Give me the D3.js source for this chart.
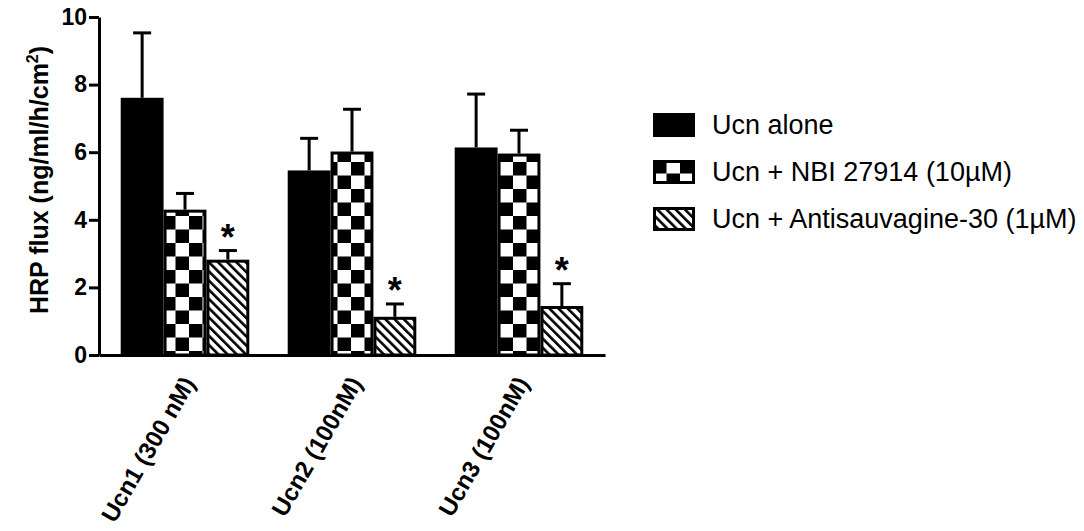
<!DOCTYPE html>
<html>
<head>
<meta charset="utf-8">
<script src="https://cdnjs.cloudflare.com/ajax/libs/d3/7.8.5/d3.min.js"></script>
<style>
  body { margin: 0; background: #fff; }
  svg { display: block; font-family: "Liberation Sans", Arial, Helvetica, sans-serif; }
</style>
</head>
<body>
<svg width="1084" height="531"></svg>
<script>
// values
const groups = ["Ucn1 (300 nM)", "Ucn2 (100nM)", "Ucn3 (100nM)"];
const series = ["Ucn alone", "Ucn + NBI 27914 (10µM)", "Ucn + Antisauvagine-30 (1µM)"];
const ucnAlone = [7.61, 5.46, 6.14];
const ucnAloneErr = [1.92, 0.95, 1.58];
const ucnNbi = [4.30, 6.02, 5.96];
const ucnNbiErr = [0.48, 1.25, 0.69];
const ucnAnti = [2.82, 1.13, 1.45];
const ucnAntiErr = [0.27, 0.38, 0.66];
const significant = [false, false, true]; // star per series
const yTicks = [0, 2, 4, 6, 8, 10];

const values = [ucnAlone, ucnNbi, ucnAnti];
const errors = [ucnAloneErr, ucnNbiErr, ucnAntiErr];
const fills = ["#000", "url(#checker)", "url(#hatch)"];

const svg = d3.select("svg");

// patterns
const defs = svg.append("defs");
const checker = defs.append("pattern")
  .attr("id", "checker")
  .attr("patternUnits", "userSpaceOnUse")
  .attr("width", 27).attr("height", 27);
checker.append("rect").attr("width", 27).attr("height", 27).attr("fill", "#fff");
checker.append("rect").attr("width", 13.5).attr("height", 13.5).attr("fill", "#000");
checker.append("rect").attr("x", 13.5).attr("y", 13.5).attr("width", 13.5).attr("height", 13.5).attr("fill", "#000");

const hatch = defs.append("pattern")
  .attr("id", "hatch")
  .attr("patternUnits", "userSpaceOnUse")
  .attr("width", 6.5).attr("height", 6.5)
  .attr("patternTransform", "rotate(-45)");
hatch.append("rect").attr("width", 6.5).attr("height", 6.5).attr("fill", "#fff");
hatch.append("rect").attr("width", 2.6).attr("height", 6.5).attr("fill", "#000");

// scales
const x0 = d3.scaleBand().domain(groups).range([99, 605])
  .paddingInner(0.23).paddingOuter(0.13);
const x1 = d3.scaleBand().domain(d3.range(series.length)).range([0, x0.bandwidth()]);
const y = d3.scaleLinear().domain([0, 10]).range([355, 17]);

// error bars (upper only)
const capW = 18;
series.forEach((s, si) => {
  const g = svg.append("g");
  groups.forEach((grp, gi) => {
    const cx = x0(grp) + x1(si) + x1.bandwidth() / 2;
    const top = y(values[si][gi] + errors[si][gi]);
    g.append("line")
      .attr("x1", cx).attr("x2", cx)
      .attr("y1", y(values[si][gi])).attr("y2", top)
      .attr("stroke", "#000").attr("stroke-width", 3);
    g.append("line")
      .attr("x1", cx - capW / 2).attr("x2", cx + capW / 2)
      .attr("y1", top).attr("y2", top)
      .attr("stroke", "#000").attr("stroke-width", 3);
    if (significant[si]) {
      g.append("text")
        .attr("x", cx).attr("y", top - 1)
        .attr("text-anchor", "middle")
        .attr("font-size", 36).attr("font-weight", "bold")
        .text("*");
    }
  });
});

// bars
series.forEach((s, si) => {
  svg.append("g").selectAll("rect")
    .data(groups)
    .join("rect")
    .attr("x", d => x0(d) + x1(si) + 1.5)
    .attr("width", x1.bandwidth() - 3)
    .attr("y", (d, gi) => y(values[si][gi]) + 1.5)
    .attr("height", (d, gi) => y(0) - y(values[si][gi]) - 1.5)
    .attr("fill", fills[si])
    .attr("stroke", "#000")
    .attr("stroke-width", 3);
});

// axes
const yAxis = svg.append("g")
  .attr("transform", "translate(99,0)")
  .call(d3.axisLeft(y).tickValues(yTicks).tickSize(10).tickSizeOuter(0).tickPadding(2));
yAxis.selectAll("path, line").attr("stroke", "#000").attr("stroke-width", 3);
yAxis.selectAll("text")
  .attr("font-size", 23).attr("font-weight", "bold").attr("fill", "#000")
  .attr("font-family", "Liberation Sans, Arial, sans-serif");

const xAxis = svg.append("g")
  .attr("transform", "translate(0,355)")
  .call(d3.axisBottom(x0).tickSize(0).tickSizeOuter(0).tickPadding(0));
xAxis.select(".domain").attr("stroke", "#000").attr("stroke-width", 3);
xAxis.selectAll(".tick text")
  .attr("font-size", 24).attr("font-weight", "bold").attr("fill", "#000")
  .attr("font-family", "Liberation Sans, Arial, sans-serif")
  .attr("text-anchor", "end")
  .attr("dy", null).attr("y", 0)
  .attr("transform", "translate(11,28) rotate(-60)");

// y title
const yTitle = svg.append("text")
  .attr("transform", "translate(48,180) rotate(-90)")
  .attr("text-anchor", "middle")
  .attr("font-size", 25).attr("font-weight", "bold");
yTitle.append("tspan").text("HRP flux (ng/ml/h/cm");
yTitle.append("tspan").attr("font-size", 16).attr("dy", -10).text("2");
yTitle.append("tspan").attr("dy", 10).text(")");

// legend
const legend = svg.append("g").attr("transform", "translate(653,113)");
series.forEach((s, si) => {
  const row = legend.append("g").attr("transform", `translate(0,${si * 47})`);
  row.append("rect")
    .attr("x", 1.5).attr("y", 1.5)
    .attr("width", 39).attr("height", 21)
    .attr("fill", fills[si]).attr("stroke", "#000").attr("stroke-width", 3);
  row.append("text")
    .attr("x", 59).attr("y", 21)
    .attr("font-size", 27)
    .text(s);
});
</script>
</body>
</html>
